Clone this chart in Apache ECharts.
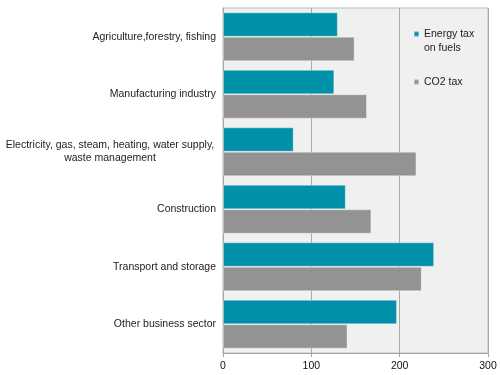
<!DOCTYPE html>
<html>
<head>
<meta charset="utf-8">
<script src="https://cdn.jsdelivr.net/npm/echarts@6/dist/echarts.min.js"></script>
<style>
html,body{margin:0;padding:0;background:#fff;}
#chart{width:500px;height:375px;}
</style>
</head>
<body>
<div id="chart"></div>
<script>
// sectors, top to bottom
var categories = ['Agriculture,forestry, fishing', 'Manufacturing industry',
	'Electricity, gas, steam, heating, water supply,\nwaste management',
	'Construction', 'Transport and storage', 'Other business sector'];
var energyTax = [130, 126, 80, 139, 239, 197];
var co2Tax = [149, 163, 219, 168, 225, 141];
var xTicks = [0, 100, 200, 300];

var myChart = echarts.init(document.getElementById('chart'));
var font = '"Liberation Sans", Arial, sans-serif';

var option = {
	animation: false,
	textStyle: { fontFamily: font },
	grid: {
		left: 223, right: 12, top: 8, bottom: 22,
		show: true,
		backgroundColor: '#f0f0f0',
		borderColor: '#bdbdbd',
		borderWidth: 1
	},
	legend: [{
		orient: 'vertical',
		left: 413, top: 13, padding: 0,
		itemWidth: 5, itemHeight: 5,
		icon: 'rect',
		data: ['Energy tax on fuels'],
		// empty first line so the marker sits on "Energy tax"
		formatter: function(name){ return ' \nEnergy tax\non fuels'; },
		textStyle: { fontSize: 10.5, color: '#222', lineHeight: 14, fontFamily: font }
	}, {
		orient: 'vertical',
		left: 413, top: 75, padding: 0,
		itemWidth: 5, itemHeight: 5,
		icon: 'rect',
		data: ['CO2 tax'],
		textStyle: { fontSize: 10.5, color: '#222', lineHeight: 14, fontFamily: font }
	}],
	xAxis: {
		type: 'value',
		min: xTicks[0], max: xTicks[xTicks.length - 1], interval: 100,
		axisLine: { show: true, lineStyle: { color: '#a6a6a6' } },
		axisTick: { show: true, length: 4, lineStyle: { color: '#a6a6a6' } },
		splitLine: { show: true, lineStyle: { color: '#ababab' } },
		axisLabel: { color: '#111', fontSize: 10.5, margin: 8, fontFamily: font }
	},
	yAxis: {
		type: 'category',
		inverse: true,
		data: categories,
		axisLine: { show: true, lineStyle: { color: '#a6a6a6' } },
		axisTick: { show: false },
		axisLabel: {
			color: '#222', fontSize: 10.5, margin: 7, fontFamily: font,
			formatter: function(v){
				if (v.indexOf('\n') >= 0) {
					var parts = v.split('\n');
					return '{c|' + parts[0] + '}\n{c|' + parts[1] + '}';
				}
				return v;
			},
			rich: {
				c: { width: 212, align: 'center', fontSize: 10.5, color: '#222', lineHeight: 13, fontFamily: font }
			}
		}
	},
	series: [{
		name: 'Energy tax on fuels',
		type: 'bar',
		data: energyTax,
		barGap: '0%',
		barCategoryGap: '15%',
		itemStyle: { color: '#0091a9', borderColor: 'rgba(255,255,255,0.35)', borderWidth: 1 }
	}, {
		name: 'CO2 tax',
		type: 'bar',
		data: co2Tax,
		barGap: '0%',
		barCategoryGap: '15%',
		itemStyle: { color: '#939393', borderColor: 'rgba(255,255,255,0.35)', borderWidth: 1 }
	}]
};
myChart.setOption(option);
</script>
</body>
</html>
